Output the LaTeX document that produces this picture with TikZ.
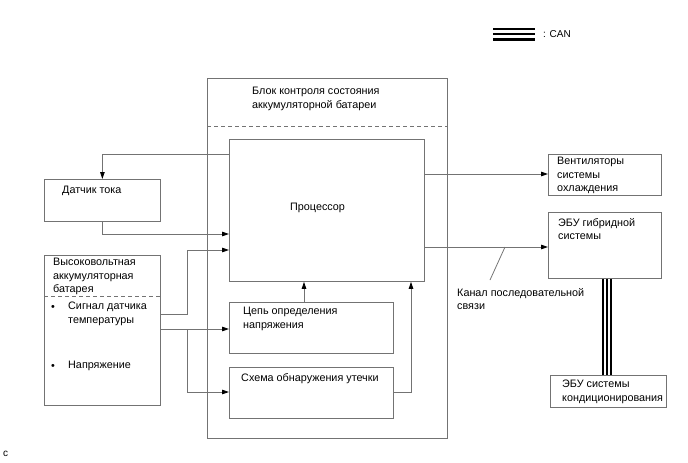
\documentclass[tikz,border=0pt]{standalone}
\usepackage{fontspec}
\setmainfont{Liberation Sans}
\usetikzlibrary{arrows.meta}

\begin{document}
\begin{tikzpicture}[
	x=1pt, y=-1pt,
	every node/.style={font=\fontsize{10.8}{13.4}\selectfont, inner sep=0pt},
	box/.style={draw=black!55, line width=0.8pt, anchor=north west},
	txt/.style={anchor=north west, align=left},
	wire/.style={draw=black!55, line width=0.8pt},
	arr/.style={wire, -{Triangle[length=7pt, width=4.5pt, color=black]}},
	sep/.style={draw=black!55, line width=0.8pt, dash pattern=on 4pt off 3pt}
]
\useasboundingbox (0,0) rectangle (688,463);

% legend
\coordinate (legA) at (493,34);
\coordinate (legB) at (535,34);
\foreach \w/\c in {13/black, 8/white, 2.5/black}
	\draw[line width=\w pt, \c] (legA) -- (legB);
\node[txt, font=\fontsize{10}{12}\selectfont] (legtext) at (543,30) {: CAN};

% battery monitor unit
\node[box, minimum width=240pt, minimum height=360pt] (unit) at (207,78) {};
\draw[sep] (unit.west |- 0,126) -- (unit.east |- 0,126);
\node[txt] (unittitle) at (252,87) {Блок контроля состояния\\аккумуляторной батареи};

\node[box, minimum width=195pt, minimum height=142pt] (proc) at (229,139) {};
\node[txt] (proctext) at (290,203) {Процессор};

\node[box, minimum width=164pt, minimum height=51pt] (volt) at (229,302) {};
\node[txt] (volttext) at (243,307) {Цепь определения\\напряжения};

\node[box, minimum width=164pt, minimum height=51pt] (leak) at (229,367) {};
\node[txt] (leaktext) at (241,373) {Схема обнаружения утечки};

% left side
\node[box, minimum width=116pt, minimum height=42pt] (sensor) at (44,179) {};
\node[txt] (sensortext) at (62,186) {Датчик тока};

\node[box, minimum width=116pt, minimum height=150pt] (batt) at (44,255) {};
\draw[sep] (batt.west |- 0,296) -- (batt.east |- 0,296);
\node[txt] (batttext) at (53,258) {Высоковольтная\\аккумуляторная\\батарея};
\node[txt] (bulletA) at (51,305) {•};
\node[txt] (temptext) at (68,302) {Сигнал датчика\\температуры};
\node[txt] (bulletB) at (51,364) {•};
\node[txt] (voltagetext) at (68,361) {Напряжение};

% right side
\node[box, minimum width=113pt, minimum height=41pt] (fans) at (548,154) {};
\node[txt] (fanstext) at (557,157) {Вентиляторы\\системы\\охлаждения};

\node[box, minimum width=113pt, minimum height=66pt] (hyb) at (548,212) {};
\node[txt] (hybtext) at (558,218) {ЭБУ гибридной\\системы};

\node[box, minimum width=116pt, minimum height=32pt] (ac) at (550,375) {};
\node[txt] (actext) at (562,380) {ЭБУ системы\\кондиционирования};

\node[txt] (serial) at (457,288) {Канал последовательной\\связи};

\node[txt, font=\fontsize{10}{12}\selectfont] (mark) at (3,451) {c};

% connections
\draw[arr] (proc.west |- 0,154) -| (sensor.north);
\draw[arr] (sensor.south) |- (proc.west |- 0,234);
\draw[arr] (batt.east |- 0,314) -| (187,250) -- (proc.west |- 0,250);
\coordinate (split) at (187,329);
\draw[arr] (batt.east |- split) -- (volt.west |- split);
\draw[arr] (split) |- (leak.west |- 0,392);
\draw[arr] (304,0 |- volt.north) -- (304,0 |- proc.south);
\draw[arr] (leak.east |- 0,392) -| (411,0 |- proc.south);
\draw[arr] (proc.east |- 0,174) -- (fans.west |- 0,174);
\coordinate (bus) at (505,247);
\draw[arr] (proc.east |- bus) -- (hyb.west |- bus);
\draw[wire] (bus) -- (490,280);

% CAN line
\foreach \w/\c in {10/black, 6/white, 1.5/black}
	\draw[line width=\w pt, \c] (607,0 |- hyb.south) -- (607,0 |- ac.north);
\end{tikzpicture}
\end{document}
